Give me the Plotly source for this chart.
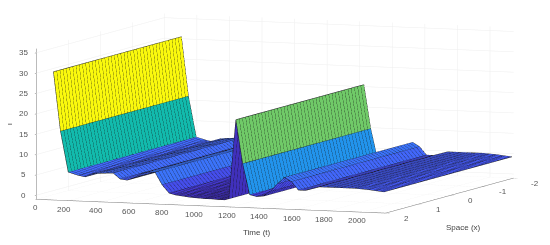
import plotly.graph_objects as go

# Time grid (t) and the surface height I along time
time_t = [105,148,196,258,300,343,387,429,472,515,558,601,644,687,729,772,816,858,901,944,987,1030,1073,1116,1158,1182,1225,1267,1310,1353,1396,1439,1482,1525,1567,1610,1654,1696,1739,1782,1825,1868,1911,1954,1996,2040,2083,2135]
height_i = [30.5,16,6,5.3,5,5.8,6,6.1,6.2,4.8,4.6,5.3,6.3,6.8,6.8,3.8,1.8,1.4,1.2,1,0.9,0.8,0.8,0.7,0.7,1,20.5,9.8,2.2,1.8,2,3.3,5.2,6.8,5.8,3.8,3.8,4.3,4.8,4.8,4.8,4.8,4.8,4.8,4.7,4.6,4.4,4.2]
space_x = [-2 + 0.1*i for i in range(41)]
x_ticks = [-2,-1,0,1,2]
t_ticks = [0,200,400,600,800,1000,1200,1400,1600,1800,2000]
i_ticks = [0,5,10,15,20,25,30,35]
parula = [(62,38,168),(71,69,232),(66,107,252),(38,143,242),(23,171,222),(5,184,184),(59,199,143),(133,204,89),(204,191,56),(250,204,56),(250,250,13)]

def color_of(v, vmax=30.5):
    p = max(0.0, min(0.9999, v/vmax))*(len(parula)-1)
    i = int(p); f = p-i
    c = [parula[i][k]*(1-f)+parula[i+1][k]*f for k in range(3)]
    return "rgb(%d,%d,%d)" % tuple(c)

nt, nx = len(time_t), len(space_x)
X, Y, Z = [], [], []
for a in range(nt):
    for b in range(nx):
        X.append(time_t[a]); Y.append(space_x[b]); Z.append(height_i[a])
I_, J_, K_, FC = [], [], [], []
for a in range(nt-1):
    for b in range(nx-1):
        p = a*nx+b; q = p+1; r = (a+1)*nx+b; s = r+1
        I_ += [p, q]; J_ += [q, s]; K_ += [r, r]
        col = color_of(height_i[a])
        FC += [col, col]

surf = go.Mesh3d(x=X, y=Y, z=Z, i=I_, j=J_, k=K_, facecolor=FC, flatshading=True,
                 lighting=dict(ambient=1, diffuse=0, specular=0, fresnel=0, roughness=1),
                 hoverinfo="skip", showscale=False)

lx, ly, lz = [], [], []
for a in range(nt):
    lx += [time_t[a], time_t[a], None]; ly += [space_x[0], space_x[-1], None]; lz += [height_i[a], height_i[a], None]
for b in range(nx):
    lx += time_t + [None]; ly += [space_x[b]]*nt + [None]; lz += height_i + [None]
mesh = go.Scatter3d(x=lx, y=ly, z=lz, mode="lines", line=dict(color="rgb(20,20,20)", width=1), hoverinfo="skip", showlegend=False)

fig = go.Figure([surf, mesh])
FONT = "Liberation Sans"
ax = dict(showbackground=False, gridcolor="#eeeeee", gridwidth=1, showline=True, linecolor="#777777", linewidth=1,
          zeroline=False, ticks="outside", ticklen=4, tickcolor="#777777", showticklabels=False, title=dict(text=""),
          showspikes=False)
def label(text, x, y, z, dx, dy, angle=0, size=8, color="#555555"):
    return dict(text=text, x=x, y=y, z=z, showarrow=False, xshift=dx, yshift=-dy, textangle=angle,
                xanchor="center", yanchor="middle", font=dict(family=FONT, size=size, color=color))
notes = []
notes += [label(str(v), v, 2, -1, -1 if v == 0 else -5, 8.5) for v in t_ticks]
notes += [label(str(v), 2145, v, -1, 21, 5) for v in x_ticks]
notes += [label(str(v), 0, 2, v, -13, 0) for v in i_ticks]
notes += [label("Time (t)", 1200, 2, -1, 25, 25, color="#444444"),
          label("Space (x)", 2145, 0, -1, 14, 32, color="#444444"),
          label("I", 0, 2, 17.5, -27, 0, angle=-90, color="#444444")]
k = 3.05
fig.update_layout(width=550, height=245, margin=dict(l=0, r=0, t=0, b=0), paper_bgcolor="white", showlegend=False,
    scene=dict(domain=dict(x=[0,1], y=[0,1]), annotations=notes,
        xaxis=dict(ax, range=[0,2145], tickvals=t_ticks),
        yaxis=dict(ax, range=[2,-2], tickvals=x_ticks),
        zaxis=dict(ax, range=[-1,36], tickvals=i_ticks),
        aspectmode="manual", aspectratio=dict(x=1*k, y=0.966*k, z=0.4055*k),
        camera=dict(projection=dict(type="orthographic"), eye=dict(x=0.55*k, y=-1.39*k, z=0.11*k), center=dict(x=0.07, y=0, z=-0.138), up=dict(x=0, y=0, z=1))))
fig.write_html("out.html")
